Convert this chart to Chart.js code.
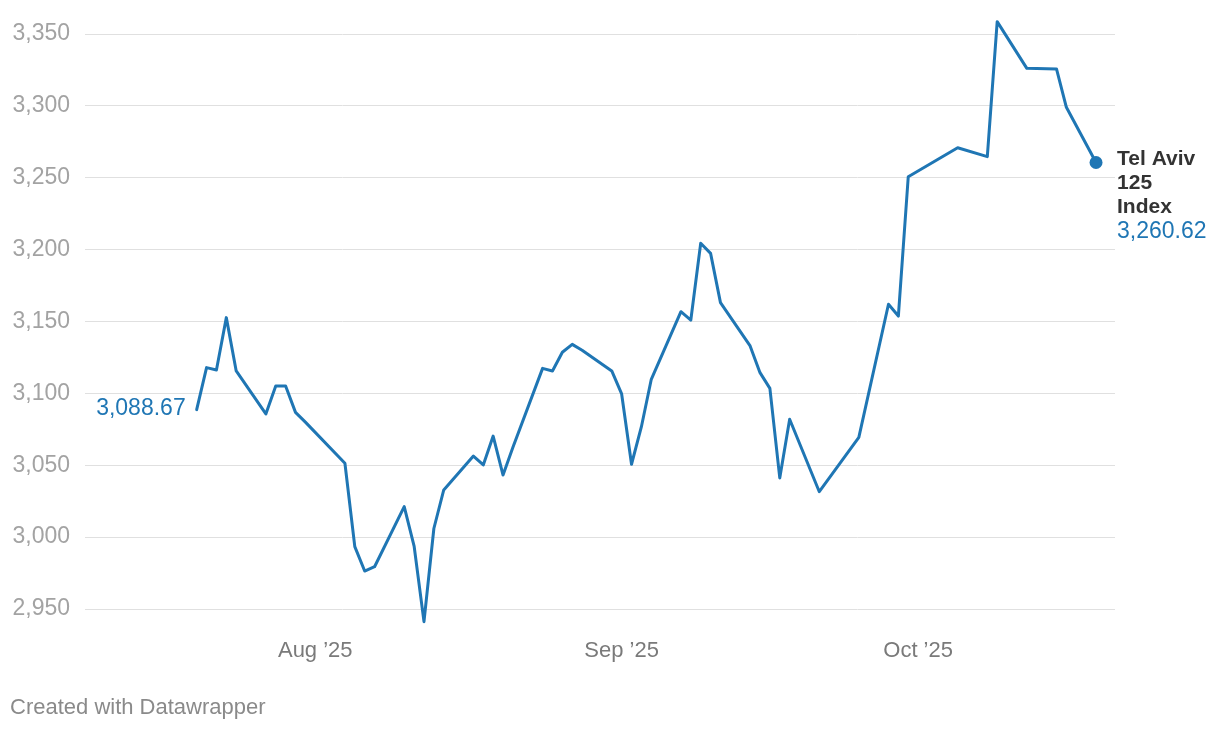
<!DOCTYPE html>
<html>
<head>
<meta charset="utf-8">
<script src="https://cdn.jsdelivr.net/npm/chart.js@4.4.1/dist/chart.umd.min.js"></script>
<style>
  html, body { margin: 0; padding: 0; background: #ffffff; }
  #wrap { position: relative; width: 1220px; height: 730px; overflow: hidden; }
  #c { position: absolute; left: 0; top: 0; }
  #footer { position: absolute; left: 10px; top: 694px; font: 22px "Liberation Sans", Arial, Helvetica, sans-serif; color: #8a8a8a; line-height: 26px; white-space: nowrap; }
</style>
</head>
<body>
<div id="wrap">
  <canvas id="c" width="1220" height="730"></canvas>
  <div id="footer">Created with Datawrapper</div>
</div>
<script>
// ---- data ----
const dates = [
  '2025-07-20','2025-07-21','2025-07-22','2025-07-23','2025-07-24',
  '2025-07-27','2025-07-28','2025-07-29','2025-07-30','2025-07-31',
  '2025-08-04','2025-08-05','2025-08-06','2025-08-07',
  '2025-08-10','2025-08-11','2025-08-12','2025-08-13','2025-08-14',
  '2025-08-17','2025-08-18','2025-08-19','2025-08-20','2025-08-21',
  '2025-08-24','2025-08-25','2025-08-26','2025-08-27','2025-08-28',
  '2025-08-31','2025-09-01','2025-09-02','2025-09-03','2025-09-04',
  '2025-09-07','2025-09-08','2025-09-09','2025-09-10','2025-09-11',
  '2025-09-14','2025-09-15','2025-09-16','2025-09-17','2025-09-18',
  '2025-09-21','2025-09-25',
  '2025-09-28','2025-09-29','2025-09-30',
  '2025-10-05','2025-10-08','2025-10-09',
  '2025-10-12','2025-10-15','2025-10-16',
  '2025-10-19'
];
const values = [
  3088.67, 3117.9, 3116.3, 3152.7, 3115.6,
  3085.7, 3105.1, 3105.1, 3086.8, 3080.0,
  3051.4, 2993.4, 2976.4, 2979.4,
  3021.2, 2993.8, 2941.2, 3006.0, 3032.8,
  3056.4, 3050.2, 3070.3, 3043.2, 3062.5,
  3117.4, 3115.6, 3128.6, 3134.1, 3130.0,
  3115.6, 3099.6, 3050.7, 3076.8, 3109.8,
  3156.8, 3151.0, 3204.4, 3197.4, 3163.1,
  3133.0, 3114.4, 3103.5, 3041.2, 3082.0,
  3031.6, 3069.4,
  3162.0, 3153.8, 3250.7,
  3270.9, 3264.7, 3358.6,
  3326.1, 3325.7, 3299.0,
  3260.62
];
const seriesLabelLines = ['Tel Aviv', '125', 'Index'];
const xTickDates = ['2025-08-01', '2025-09-01', '2025-10-01'];
const xTickLabels = ['Aug \u201925', 'Sep \u201925', 'Oct \u201925'];
const yTicks = [2950, 3000, 3050, 3100, 3150, 3200, 3250, 3300, 3350];

// ---- helpers ----
const BASE = Date.UTC(2025, 7, 1);
function dayNum(s) {
  const p = s.split('-').map(Number);
  return (Date.UTC(p[0], p[1] - 1, p[2]) - BASE) / 86400000;
}
const points = dates.map((d, i) => ({ x: dayNum(d), y: values[i] }));
const xTickVals = xTickDates.map(dayNum);
const fmt0 = v => Number(v).toLocaleString('en-US');
const fmt2 = v => Number(v).toLocaleString('en-US', { minimumFractionDigits: 2, maximumFractionDigits: 2 });

const FONT = '"Liberation Sans", Arial, Helvetica, sans-serif';
const BLUE = '#1f76b4';
const lastIdx = values.length - 1;

const labelPlugin = {
  id: 'lineLabels',
  afterDatasetsDraw(chart) {
    const ctx = chart.ctx;
    const meta = chart.getDatasetMeta(0);
    const first = meta.data[0];
    const last = meta.data[lastIdx];
    ctx.save();
    ctx.textBaseline = 'middle';
    // start value
    ctx.font = '23px ' + FONT;
    ctx.fillStyle = BLUE;
    ctx.textAlign = 'right';
    ctx.fillText(fmt2(values[0]), first.x - 11, first.y - 1);
    // end label
    ctx.textAlign = 'left';
    ctx.font = 'bold 21px ' + FONT;
    ctx.fillStyle = '#333333';
    const lx = last.x + 21;
    const ly = last.y - 3;
    seriesLabelLines.forEach((t, i) => ctx.fillText(t, lx, ly + i * 24));
    ctx.font = '23px ' + FONT;
    ctx.fillStyle = BLUE;
    ctx.fillText(fmt2(values[lastIdx]), lx, ly + seriesLabelLines.length * 24);
    ctx.restore();
  }
};

new Chart(document.getElementById('c'), {
  type: 'line',
  data: {
    datasets: [{
      label: seriesLabelLines.join(' '),
      data: points,
      borderColor: BLUE,
      backgroundColor: BLUE,
      borderWidth: 3,
      borderJoinStyle: 'round',
      borderCapStyle: 'round',
      tension: 0,
      fill: false,
      clip: false,
      pointRadius: c => (c.dataIndex === lastIdx ? 6.5 : 0),
      pointHoverRadius: 0,
      pointBorderWidth: 0,
      pointBackgroundColor: BLUE
    }]
  },
  options: {
    responsive: false,
    animation: false,
    events: [],
    layout: { padding: { top: 34, right: 105, left: 0, bottom: 0 } },
    plugins: { legend: { display: false }, tooltip: { enabled: false } },
    scales: {
      x: {
        type: 'linear',
        min: -23.30,
        max: 80.92,
        grid: { display: false },
        border: { display: false },
        afterBuildTicks: axis => { axis.ticks = xTickVals.map(v => ({ value: v })); },
        afterFit: axis => { axis.height = 121; },
        ticks: {
          autoSkip: false,
          maxRotation: 0,
          padding: 21,
          color: '#7a7a7a',
          font: { family: FONT, size: 22 },
          callback: (v) => { const i = xTickVals.indexOf(v); return i >= 0 ? xTickLabels[i] : ''; }
        }
      },
      y: {
        type: 'linear',
        min: 2950,
        max: 3350,
        grid: { color: '#e0e0e0', lineWidth: 1, drawTicks: false },
        border: { display: false },
        afterBuildTicks: axis => { axis.ticks = yTicks.map(v => ({ value: v })); },
        afterFit: axis => { axis.width = 85; },
        ticks: {
          padding: 15,
          color: '#a3a3a3',
          font: { family: FONT, size: 23 },
          callback: v => fmt0(v)
        }
      }
    }
  },
  plugins: [labelPlugin]
});
</script>
</body>
</html>
